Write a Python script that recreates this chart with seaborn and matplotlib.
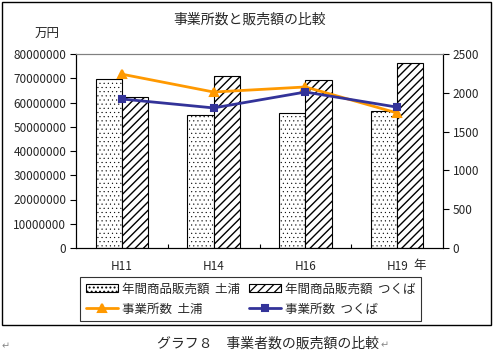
import matplotlib
matplotlib.use('Agg')
import matplotlib.pyplot as plt
from matplotlib.patches import Rectangle
import seaborn as sns
import pandas as pd
import numpy as np

# data
years = ['H11', 'H14', 'H16', 'H19']
sales_tsuchiura = [69700000, 54800000, 55700000, 56500000]
sales_tsukuba = [62300000, 70900000, 69300000, 76300000]
offices_tsuchiura = [2240, 2010, 2075, 1740]
offices_tsukuba = [1920, 1805, 2010, 1815]

lbl_sales_t = '年間商品販売額  土浦'
lbl_sales_k = '年間商品販売額  つくば'
lbl_off_t = '事業所数  土浦'
lbl_off_k = '事業所数  つくば'

sales = pd.DataFrame({
    'year': years * 2,
    'value': sales_tsuchiura + sales_tsukuba,
    'city': [lbl_sales_t] * 4 + [lbl_sales_k] * 4,
})

sns.set_theme(style='white')
plt.rcParams['font.family'] = ['Noto Sans CJK JP', 'DejaVu Sans']
plt.rcParams['hatch.linewidth'] = 0.9

W, H = 498, 354
fig = plt.figure(figsize=(W / 100, H / 100), dpi=100)
ax = fig.add_axes([76 / W, 1 - 248 / H, 367 / W, 194 / H])

sns.barplot(data=sales, x='year', y='value', hue='city', ax=ax,
            palette=['white', 'white'], edgecolor='black', linewidth=0.8,
            width=0.57, gap=0, legend=False, errorbar=None, saturation=1)
hatches = ['....', '////']
for cont, h in zip(ax.containers, hatches):
    for p in cont:
        p.set_hatch(h)
        if hasattr(p, 'set_hatch_linewidth'):
            p.set_hatch_linewidth(0.3 if h.startswith('.') else 1.0)

ax2 = ax.twinx()
sns.pointplot(x=years, y=offices_tsuchiura, ax=ax2, color='#FF9900',
              markers='^', linestyles='-', markersize=6, linewidth=2, errorbar=None)
sns.pointplot(x=years, y=offices_tsukuba, ax=ax2, color='#333399',
              markers='s', linestyles='-', markersize=5, linewidth=2, errorbar=None)

ax.set_ylim(0, 80000000)
ax.set_yticks(np.arange(0, 80000001, 10000000))
ax.set_yticklabels([f'{int(v)}' for v in np.arange(0, 80000001, 10000000)], fontsize=8.5)
ax2.set_ylim(0, 2500)
ax2.set_yticks(np.arange(0, 2501, 500))
ax2.set_yticklabels([str(v) for v in range(0, 2501, 500)], fontsize=8.5)

ax.set_xlim(-0.5, 3.5)
ax.set_xticks(range(4))
ax.set_xticklabels(years, fontsize=8.5)
ax.set_xticks([0.5, 1.5, 2.5], minor=True)
ax.tick_params(axis='x', which='major', length=0, pad=9)
ax.tick_params(axis='x', which='minor', direction='in', length=3, width=0.8, color='black', bottom=True)
ax.tick_params(axis='y', which='major', direction='out', length=4, width=0.8, color='black', left=True, pad=3)
ax2.tick_params(axis='y', which='major', direction='out', length=4, width=0.8, color='black', right=True, pad=3)
for a in (ax, ax2):
    a.set_xlabel('')
    a.set_ylabel('')
    for s in a.spines.values():
        s.set_color('black')
        s.set_linewidth(0.8)
    a.spines['top'].set_color('#808080')

fig.text(250 / W, 1 - 20 / H, '事業所数と販売額の比較', ha='center', va='center', fontsize=10)
fig.text(47 / W, 1 - 34 / H, '万円', ha='center', va='center', fontsize=9)
fig.text(420 / W, 1 - 265 / H, '年', ha='center', va='center', fontsize=9)

handles = [ax.containers[0], ax2.lines[0], ax.containers[1], ax2.lines[1]]
labels = [lbl_sales_t, lbl_off_t, lbl_sales_k, lbl_off_k]
leg = fig.legend(handles, labels, ncol=2, loc='center',
                 bbox_to_anchor=(80 / W, 1 - 320 / H, 341 / W, 42 / H), mode='expand',
                 fontsize=9, frameon=True, fancybox=False, edgecolor='black',
                 handlelength=2.6, handletextpad=0.3, borderpad=0.45, labelspacing=0.6,
                 borderaxespad=0)
leg.get_frame().set_linewidth(0.8)

# outer chart frame
fig.patches.append(Rectangle((2 / W, 1 - 325 / H), 489 / W, 323 / H, transform=fig.transFigure,
                             fill=False, edgecolor='black', linewidth=1.0))

fig.text(268 / W, 1 - 344 / H, 'グラフ８\u3000事業者数の販売額の比較', ha='center', va='center', fontsize=10)
fig.text(385 / W, 1 - 345 / H, '↵', ha='center', va='center', fontsize=7, color='#888888',
         family=['DejaVu Sans'])
fig.text(6 / W, 1 - 346 / H, '↵', ha='center', va='center', fontsize=7, color='#888888',
         family=['DejaVu Sans'])

fig.savefig('out.png', dpi=100)
